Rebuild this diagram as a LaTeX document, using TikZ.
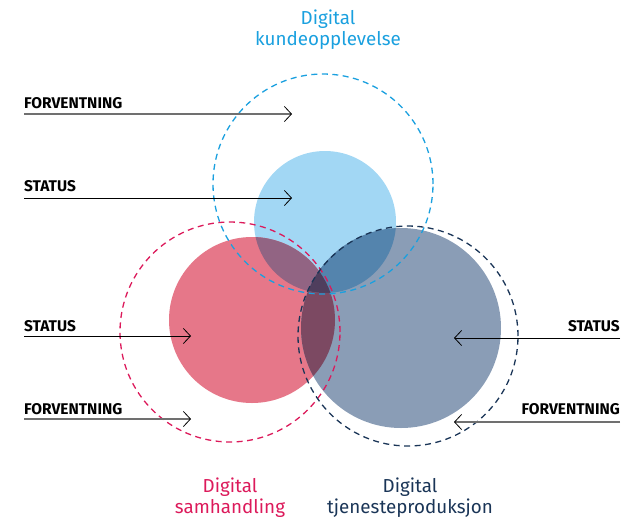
\documentclass[tikz,border=0pt]{standalone}
\usepackage{fontspec}
\setmainfont{Fira Sans}
\usetikzlibrary{arrows.meta}
\definecolor{fillblue}{HTML}{A2D7F4}
\definecolor{fillred}{HTML}{E67789}
\definecolor{fillnavy}{HTML}{8A9DB6}
\definecolor{fillbluered}{HTML}{926483}
\definecolor{fillbluenavy}{HTML}{5484AD}
\definecolor{fillrednavy}{HTML}{7C4962}
\definecolor{fillall}{HTML}{4F3E5D}
\definecolor{lineblue}{HTML}{1AA0DF}
\definecolor{linered}{HTML}{DC1A5B}
\definecolor{linenavy}{HTML}{1A3557}
\definecolor{arrowgray}{HTML}{707070}
\tikzset{
    >={Straight Barb[length=7pt,width=15pt,line width=0.8pt,color=black]},
    ring/.style={dashed, dash pattern=on 6pt off 4.5pt, line width=1.3pt},
    title/.style={align=center, inner sep=0pt, anchor=base, font=\fontsize{18.8}{21}\selectfont},
    label/.style={inner sep=0pt, font=\fontsize{15.5}{17}\selectfont\bfseries}
}
\def\blueDisc{(325,222) circle[radius=71pt]}
\def\redDisc{(252,320) circle[radius=83pt]}
\def\navyDisc{(401,328) circle[radius=100pt]}

\begin{document}
\begin{tikzpicture}[x=1pt, y=-1pt,
  status/.style={->, line width=0.8pt, black},
  forv/.style={->, line width=1.4pt, arrowgray}
  ]
\useasboundingbox (0,0) rectangle (635,520);

\fill[fillblue] \blueDisc;
\fill[fillred]  \redDisc;
\fill[fillnavy] \navyDisc;
\begin{scope}
  \clip \blueDisc;
  \fill[fillbluered] \redDisc;
  \fill[fillbluenavy] \navyDisc;
  \clip \redDisc;
  \fill[fillall] \navyDisc;
\end{scope}
\begin{scope}
  \clip \redDisc;
  \clip \navyDisc;
  \path[even odd rule, fill=fillrednavy] (0,0) rectangle (635,520) \blueDisc;
\end{scope}

\draw[ring, lineblue] (323,184) circle[radius=110pt];
\draw[ring, linered]  (230,332) circle[radius=110pt];
\draw[ring, linenavy] (408,336) circle[radius=110pt];

\node[title, text=lineblue] (kunde) at (328,45) {Digital\\kundeopplevelse};
\node[title, text=linered]  (samh)  at (230,513) {Digital\\samhandling};
\node[title, text=linenavy] (tjen)  at (410,513) {Digital\\tjenesteproduksjon};

\node[label, anchor=base west] (forv1) at (24,108) {FORVENTNING};
\node[label, anchor=base west] (stat1) at (24,191) {STATUS};
\node[label, anchor=base west] (stat2) at (24,331) {STATUS};
\node[label, anchor=base west] (forv2) at (24,414) {FORVENTNING};
\node[label, anchor=base east] (stat3) at (620,331) {STATUS};
\node[label, anchor=base east] (forv3) at (620,414) {FORVENTNING};

\coordinate (f1) at (292,114);
\coordinate (s1) at (292,198);
\coordinate (s2) at (191,336);
\coordinate (f2) at (191,419);
\coordinate (s3) at (454,338);
\coordinate (f3) at (454,422);

\draw[forv]   (forv1.base west |- f1) -- (f1);
\draw[status] (stat1.base west |- s1) -- (s1);
\draw[status] (stat2.base west |- s2) -- (s2);
\draw[forv]   (forv2.base west |- f2) -- (f2);
\draw[status] (stat3.base east |- s3) -- (s3);
\draw[forv]   (forv3.base east |- f3) -- (f3);

\end{tikzpicture}
\end{document}
